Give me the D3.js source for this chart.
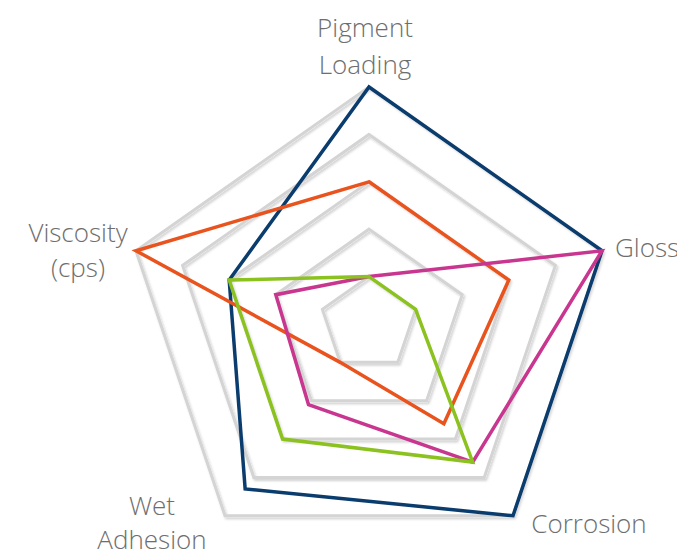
<!DOCTYPE html>
<html>
<head>
<meta charset="utf-8">
<script src="https://cdn.jsdelivr.net/npm/d3@7"></script>
<style>
  html, body { margin: 0; padding: 0; background: #fff; overflow: hidden; }
  svg { display: block; }
  .lbl { font-family: "Open Sans", sans-serif; font-weight: 300; font-size: 26px; fill: #6e6e6e; }
</style>
</head>
<body>
<svg id="chart" width="677" height="553"></svg>
<script>
// ---- data ----
const categories = ["Pigment Loading", "Gloss", "Corrosion", "Wet Adhesion", "Viscosity (cps)"];
const labelLines = [["Pigment", "Loading"], ["Gloss"], ["Corrosion"], ["Wet", "Adhesion"], ["Viscosity", "(cps)"]];
const gridLevels = [1, 2, 3, 4, 5];
const seriesNames = ["Series A", "Series B", "Series C", "Series D"];
const seriesA = [5, 5, 5, 4.3, 3];
const seriesB = [3, 3, 2.6, 1, 5];
const seriesC = [1, 5, 3.6, 2.1, 2];
const seriesD = [1, 1, 3.6, 3, 3];
const seriesColors = ["#0a3c6d", "#e9531d", "#c8368f", "#8cc21f"];

// ---- layout ----
const svg = d3.select("#chart");
const cx = 369, cy = 324;
const rScaleX = d3.scaleLinear().domain([0, 5]).range([0, 245]);
const rScaleY = d3.scaleLinear().domain([0, 5]).range([0, 237]);
const angle = d3.scalePoint().domain(categories).range([0, 2 * Math.PI * (categories.length - 1) / categories.length]);

const px = (cat, v) => cx + rScaleX(v) * Math.sin(angle(cat));
const py = (cat, v) => cy - rScaleY(v) * Math.cos(angle(cat));

const defs = svg.append("defs");
const f = defs.append("filter").attr("id", "shadow").attr("x", "-10%").attr("y", "-10%").attr("width", "120%").attr("height", "120%");
f.append("feDropShadow").attr("dx", 1.5).attr("dy", 2).attr("stdDeviation", 1).attr("flood-color", "#000").attr("flood-opacity", 0.18);

const line = d3.line()
  .x(d => px(d.cat, d.v))
  .y(d => py(d.cat, d.v))
  .curve(d3.curveLinearClosed);

// grid rings
svg.append("g").selectAll("path").data(gridLevels).join("path")
  .attr("d", lv => line(categories.map(c => ({cat: c, v: lv}))))
  .attr("fill", "none")
  .attr("stroke", "#d4d4d4")
  .attr("stroke-width", 3)
  .attr("stroke-linejoin", "miter")
  .attr("filter", "url(#shadow)");

// series
const allSeries = [seriesA, seriesB, seriesC, seriesD];
svg.append("g").selectAll("path").data(allSeries).join("path")
  .attr("d", vals => line(categories.map((c, i) => ({cat: c, v: vals[i]}))))
  .attr("fill", "none")
  .attr("stroke", (d, i) => seriesColors[i])
  .attr("stroke-width", 3.5)
  .attr("stroke-linejoin", "miter")
  .attr("stroke-miterlimit", 10);

// labels (offsets relative to outer vertex)
const labelOffsets = [
  {dx: -4, dy: [-50, -13], anchor: "middle"},
  {dx: 13, dy: [6], anchor: "start"},
  {dx: 76, dy: [17], anchor: "middle"},
  {dx: -73, dy: [-1, 33], anchor: "middle"},
  {dx: -58, dy: [-9, 26], anchor: "middle"}
];
const lg = svg.append("g");
categories.forEach((c, i) => {
  const vx = px(c, 5), vy = py(c, 5);
  const o = labelOffsets[i];
  labelLines[i].forEach((t, j) => {
    lg.append("text").attr("class", "lbl")
      .attr("x", vx + o.dx).attr("y", vy + o.dy[j])
      .attr("text-anchor", o.anchor)
      .text(t);
  });
});
</script>
</body>
</html>
